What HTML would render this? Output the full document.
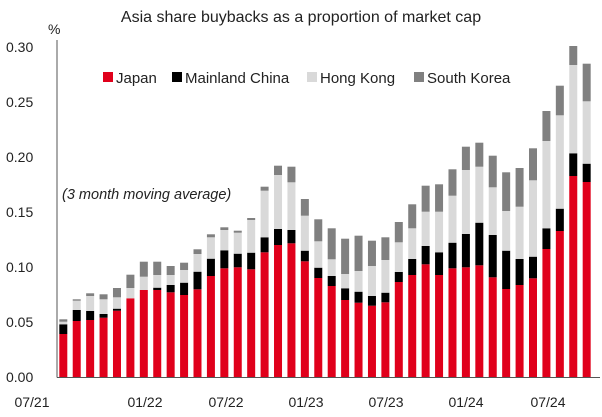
<!DOCTYPE html>
<html><head><meta charset="utf-8">
<style>
html,body{margin:0;padding:0;background:#fff;}
svg{display:block;font-family:"Liberation Sans",Arial,sans-serif;}
</style></head>
<body>
<svg id="c" width="602" height="417" viewBox="0 0 602 417" xmlns="http://www.w3.org/2000/svg">
<text x="301" y="22" font-size="16" text-anchor="middle" fill="#222">Asia share buybacks as a proportion of market cap</text>
<text x="48" y="34" font-size="14" fill="#222">%</text>
<g font-size="14" fill="#222" text-anchor="start">
<text x="6" y="52">0.30</text>
<text x="6" y="107">0.25</text>
<text x="6" y="162">0.20</text>
<text x="6" y="217">0.15</text>
<text x="6" y="272">0.10</text>
<text x="6" y="327">0.05</text>
<text x="6" y="382">0.00</text>
</g>
<g font-size="14" fill="#222" text-anchor="middle">
<text x="32" y="407">07/21</text>
<text x="145" y="407">01/22</text>
<text x="226" y="407">07/22</text>
<text x="306" y="407">01/23</text>
<text x="386" y="407">07/23</text>
<text x="466" y="407">01/24</text>
<text x="548" y="407">07/24</text>
</g>
<text x="62" y="199" font-size="14.5" font-style="italic" fill="#222">(3 month moving average)</text>
<g font-size="15" fill="#222">
<rect x="103" y="72" width="10" height="10" fill="#e0001b"/><text x="116" y="83">Japan</text>
<rect x="172" y="72" width="10" height="10" fill="#000"/><text x="185" y="83">Mainland China</text>
<rect x="307" y="72" width="10" height="10" fill="#d9d9d9"/><text x="320" y="83">Hong Kong</text>
<rect x="414" y="72" width="10" height="10" fill="#808080"/><text x="427" y="83">South Korea</text>
</g>
<g id="bars"></g>
<line x1="57" y1="40" x2="57" y2="377.5" stroke="#555" stroke-width="1"/>
<line x1="57" y1="377.5" x2="600" y2="377.5" stroke="#555" stroke-width="1"/>
</svg>
<script>
var d=[[334,324.3,321.7,319.3],[321,310,300.7,299.3],[320,311,296,293.3],[317.7,314,299.3,294.3],[310.7,308.7,297.3,288],
[298.3,298.3,288,274.7],[290,290,276.7,261.7],[290,287.7,275,261.7],[292.3,285,275,266],[295,282.7,270,262.7],
[289.3,271.7,254,249.3],[276,258.7,237.3,234.3],[268.3,250.3,230,227.3],[267.3,253.7,232.7,230.7],[269.3,252.7,220,218],
[252.3,237.3,190.7,186.7],[245,229,175,165.7],[243.3,230,182.3,166.7],[261.3,250.7,215.7,199],[278,267.7,241.3,219.3],
[286,276,259.3,228.3],[300,288.3,274,238.7],[302.7,291.7,271,235.7],[305.7,296,266,240.7],[302.3,292.7,260,237.3],
[282,272,242.3,222],[275,259,228.3,204.3],[264.3,246,211.7,185.7],[275,252.3,211.7,184.3],[268.3,242.7,195.7,169.3],
[267.3,234,170,146.7],[265.3,222.7,166.7,142.7],[277.3,235,187.3,155.7],[289,250.7,211,172.3],[285,259,206.7,168],
[278.3,256.7,180.3,148.3],[249,228.3,141,111],[231,208.7,115.3,85.7],[176,153.3,65,46],[182,163.7,101.3,63.7]];
var cols=["#e0001b","#000","#d9d9d9","#808080"],g=document.getElementById("bars"),s="",B=377;
d.forEach(function(b,i){var cx=63.3+i*13.42,x=(cx-4).toFixed(2),prev=B;
for(var k=0;k<4;k++){var t=b[k];if(prev-t>0.1)s+='<rect x="'+x+'" y="'+t+'" width="8" height="'+(prev-t).toFixed(2)+'" fill="'+cols[k]+'"/>';prev=t;}});
g.innerHTML=s;
</script>
</body></html>
